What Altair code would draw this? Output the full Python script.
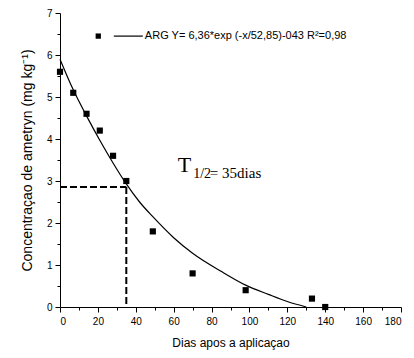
import altair as alt
import pandas as pd

# observed data
days = [0, 7, 14, 21, 28, 35, 49, 70, 98, 133, 140]
conc = [5.6, 5.1, 4.6, 4.2, 3.6, 3.0, 1.8, 0.8, 0.4, 0.2, 0.0]

# fitted curve
fit_days = [0, 7, 14, 21, 28, 35, 42, 49, 60, 70, 85, 98, 110, 120, 130]
fit_conc = [5.9, 5.17, 4.55, 3.97, 3.43, 2.93, 2.5, 2.15, 1.65, 1.28, 0.85, 0.52, 0.3, 0.13, 0.0]

# half-life guide
half_day = 35
half_conc = 2.86

# axis ticks
x_major = list(range(0, 181, 20))
x_minor = list(range(10, 180, 20))
y_major = list(range(0, 8))
y_minor = [0.5, 1.5, 2.5, 3.5, 4.5, 5.5, 6.5]

# legend / annotation anchors (data space)
legend_sym = [20.2, 6.45]
legend_line = [28.4, 43.7]
legend_text_x = 44.8
legend_label = "ARG Y= 6,36*exp (-x/52,85)-043 R²=0,98"
t_text = ["T", "1/2", "= 35dias"]
t_x = [62.2, 70.3, 79.1]
t_y = [3.21, 3.08, 3.08]
t_size = [22, 14, 15]

x_scale = alt.Scale(domain=[0, 180], nice=False)
y_scale = alt.Scale(domain=[0, 7], nice=False)

obs = pd.DataFrame({"d": days, "c": conc})
fit = pd.DataFrame({"d": fit_days, "c": fit_conc})


def X(field, axis=None):
    return alt.X(field, scale=x_scale, axis=axis)


def Y(field, axis=None):
    return alt.Y(field, scale=y_scale, axis=axis)


x_axis = alt.Axis(
    title="Dias apos a aplicaçao", values=x_major, format="d", labelOverlap=False,
    tickSize=5, labelPadding=4, titlePadding=11, titleFontSize=12,
)
y_axis = alt.Axis(
    title="Concentraçao de ametryn (mg kg⁻¹)", values=y_major, format="d", labelOverlap=False,
    tickSize=5, labelPadding=3, titlePadding=12, titleFontSize=14,
)

curve = alt.Chart(fit).mark_line(color="black", strokeWidth=1.2, interpolate="monotone").encode(
    x=X("d:Q", x_axis), y=Y("c:Q", y_axis),
)

minor = alt.Chart(fit).mark_point(opacity=0).encode(
    x=X("d:Q", alt.Axis(values=x_minor, tickSize=3, labels=False, domain=False, title=None,
                        orient="bottom")),
    y=Y("c:Q", alt.Axis(values=y_minor, tickSize=3, labels=False, domain=False, title=None,
                        orient="left")),
)

points = alt.Chart(obs).mark_square(color="black", size=38, opacity=1).encode(
    x=X("d:Q"), y=Y("c:Q"))

guides = pd.DataFrame({"x0": [0, half_day], "x1": [half_day, half_day],
                       "y0": [half_conc, half_conc], "y1": [half_conc, 0]})
dash = alt.Chart(guides).mark_rule(color="black", strokeWidth=2, strokeDash=[7, 3]).encode(
    x=X("x0:Q"), x2="x1", y=Y("y0:Q"), y2="y1"
)

leg_pt = alt.Chart(pd.DataFrame({"d": [legend_sym[0]], "c": [legend_sym[1]]})).mark_square(
    color="black", size=28, opacity=1).encode(x=X("d:Q"), y=Y("c:Q"))
leg_ln = alt.Chart(pd.DataFrame({"a": [legend_line[0]], "b": [legend_line[1]], "c": [legend_sym[1]]})).mark_rule(
    color="black", strokeWidth=1.2).encode(x=X("a:Q"), x2="b", y=Y("c:Q"))
leg_tx = alt.Chart(pd.DataFrame({"d": [legend_text_x], "c": [legend_sym[1]], "t": [legend_label]})).mark_text(
    align="left", baseline="middle", font="Liberation Sans", fontSize=11, color="black").encode(
    x=X("d:Q"), y=Y("c:Q"), text="t:N")

tdf = pd.DataFrame({"d": t_x, "c": t_y, "t": t_text, "s": t_size})
t_marks = alt.Chart(tdf).mark_text(align="left", baseline="alphabetic", font="Liberation Serif",
                                    color="black").encode(
    x=X("d:Q"), y=Y("c:Q"), text="t:N", size=alt.Size("s:Q", scale=None, legend=None))

chart = alt.layer(curve, minor, dash, points, leg_pt, leg_ln, leg_tx, t_marks).resolve_axis(
    x="independent", y="independent"
).properties(
    width=341, height=294,
    autosize=alt.AutoSizeParams(type="none"),
    padding={"left": 52, "top": 5, "right": 5, "bottom": 43},
    background="white",
).configure_view(stroke=None).configure_axis(
    grid=False, domainColor="black", tickColor="black", labelColor="black", titleColor="black",
    labelFont="Liberation Sans", titleFont="Liberation Sans", labelFontSize=10,
    titleFontWeight="normal", domainWidth=1, tickWidth=1,
)

chart.save("out.html", embed_options={"renderer": "svg", "actions": False})
